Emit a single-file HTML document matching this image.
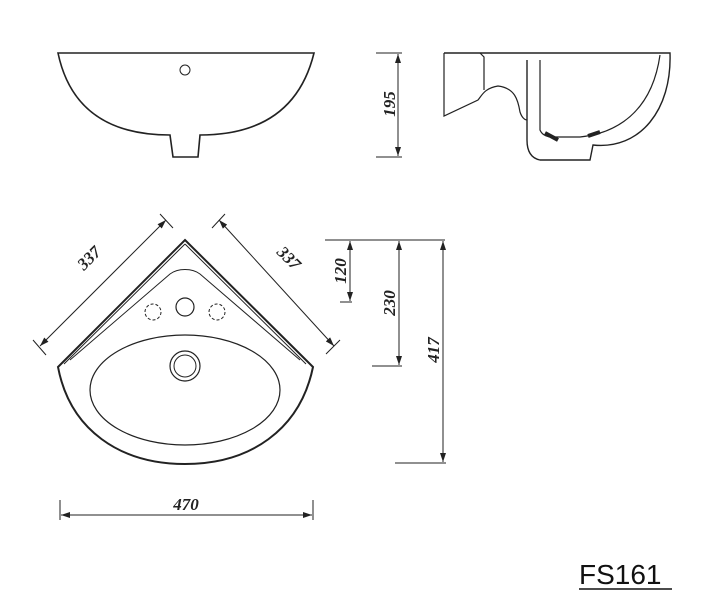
<!DOCTYPE html>
<html><head><meta charset="utf-8"><style>
html,body{margin:0;padding:0;background:#fff;}
svg{display:block;}
text{font-family:"Liberation Serif",serif;font-style:italic;font-weight:bold;font-size:17px;fill:#222;}
</style></head><body>
<svg width="708" height="614" viewBox="0 0 708 614" xmlns="http://www.w3.org/2000/svg">
<defs><marker id="a" markerWidth="9" markerHeight="6" refX="9" refY="3" orient="auto-start-reverse" markerUnits="userSpaceOnUse"><path d="M0,0 L9,3 L0,6z" fill="#222"/></marker></defs>
<g fill="none" stroke="#222" stroke-width="1.6">
<!-- front view -->
<path d="M58,53 L314,53 C300,110 260,135 200,135 L198,157 L173,157 L170,135 C110,135 70,110 58,53Z"/>
<circle cx="185" cy="70" r="5" stroke-width="1"/>
<!-- side view -->
<path d="M444,53 L670,53 C672,110 640,150 593,145 L590,160 L540,160 C530,158 527,150 527,140 L527,60" stroke-width="1.4"/>
<path d="M444,53 L444,116 L478,100 C482,95 485,88 498,86 C515,88 518,100 520,112 C522,118 525,120 527,120" stroke-width="1.2"/>
<path d="M480,53 L484,57 L484,90" stroke-width="1.2"/>
<path d="M540,60 L540,130 C542,135 548,138 555,137 L580,137 C600,135 650,125 660,55" stroke-width="1.2"/>
<path d="M545,133 L558,140 M588,136 L600,132" stroke-width="4"/>
<!-- corner view -->
<path d="M185,240 L313,367 C300,430 250,464 185,464 C120,464 70,430 58,367 Z" stroke-width="2"/>
<path d="M185,244 L306,364 M185,244 L64,364" stroke-width="1"/>
<path d="M70,360 L170,274 C178,268 192,268 200,274 L300,360" stroke-width="1"/>
<ellipse cx="185" cy="390" rx="95" ry="55" stroke-width="1.2"/>
<circle cx="185" cy="366" r="15" stroke-width="1.2"/><circle cx="185" cy="366" r="11" stroke-width="1"/>
<circle cx="185" cy="307" r="9" stroke-width="1.2"/>
<circle cx="153" cy="312" r="8" stroke-width="1" stroke-dasharray="3,2"/>
<circle cx="217" cy="312" r="8" stroke-width="1" stroke-dasharray="3,2"/>
<g stroke-width="1">
<path d="M376,53 L402,53 M376,157 L402,157"/>
<path d="M398,54 L398,156" marker-start="url(#a)" marker-end="url(#a)"/>
<path d="M160,214 L173,228 M33,340 L46,355 M212,228 L225,214 M326,354 L340,340"/>
<path d="M166,220 L40,346" marker-start="url(#a)" marker-end="url(#a)"/>
<path d="M219,220 L334,346" marker-start="url(#a)" marker-end="url(#a)"/>
<path d="M325,240 L445,240 M340,302 L352,302 M372,366 L402,366 M395,463 L446,463"/>
<path d="M350,241 L350,301" marker-start="url(#a)" marker-end="url(#a)"/>
<path d="M399,241 L399,365" marker-start="url(#a)" marker-end="url(#a)"/>
<path d="M443,241 L443,462" marker-start="url(#a)" marker-end="url(#a)"/>
<path d="M60,500 L60,520 M313,500 L313,520"/>
<path d="M61,515 L312,515" marker-start="url(#a)" marker-end="url(#a)"/>
</g>
</g>
<text transform="translate(93,262) rotate(-45)" text-anchor="middle">337</text>
<text transform="translate(285,262) rotate(45)" text-anchor="middle">337</text>
<text transform="translate(395,104) rotate(-90)" text-anchor="middle">195</text>
<text transform="translate(346,271) rotate(-90)" text-anchor="middle">120</text>
<text transform="translate(395,303) rotate(-90)" text-anchor="middle">230</text>
<text transform="translate(439,350) rotate(-90)" text-anchor="middle">417</text>
<text x="186" y="510" text-anchor="middle">470</text>
<text x="579" y="584" style="font-family:'Liberation Sans',sans-serif;font-style:normal;font-weight:normal;font-size:28px;fill:#111">FS161</text>
<line x1="579" y1="589" x2="672" y2="589" stroke="#111" stroke-width="1.5"/>
</svg>
</body></html>
